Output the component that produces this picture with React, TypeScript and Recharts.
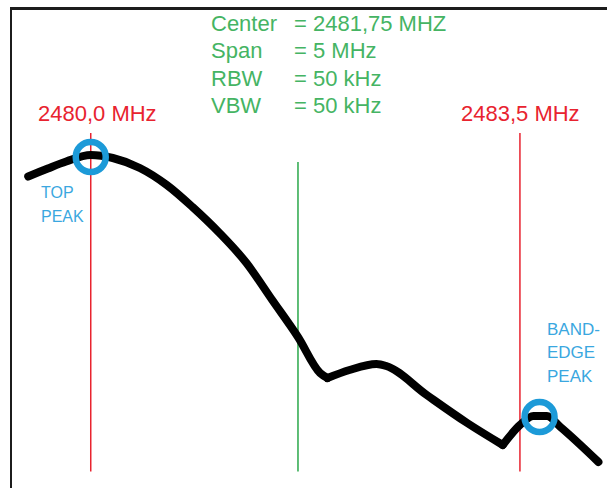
import React from 'react';
import { LineChart, Line, XAxis, YAxis, ReferenceLine, ReferenceDot, Customized } from 'recharts';

// trace of the spectrum (MHz / dB)
const freqs = [
  2479.49, 2479.65, 2479.8, 2480.0, 2480.18, 2480.4, 2480.62, 2480.83, 2481.05, 2481.27,
  2481.48, 2481.69, 2481.87, 2481.93, 2482.11, 2482.33, 2482.41, 2482.74, 2483.07, 2483.36,
  2483.5, 2483.61, 2483.72, 2483.83, 2484.14,
];
const levels = [
  -35.3, -33.7, -32.3, -31.0, -31.6, -33.6, -37.0, -41.4, -46.6, -52.6,
  -60.0, -67.4, -74.6, -75.6, -74.0, -72.8, -73.2, -79.0, -84.6, -89.0,
  -85.0, -83.2, -83.2, -85.4, -92.4,
];
// sharp corners in the trace (the smooth pieces meet here)
const cornerFreqs = [2481.93, 2483.36];

// red band markers and green center marker
const bandMarkers = [2480.0, 2483.5];
const bandLabels = ['2480,0 MHz', '2483,5 MHz'];
const centerLine = 2481.69;

// peak markers
const peakFreqs = [2480.0, 2483.66];
const peakLevels = [-31.4, -83.4];

const infoNames = ['Center', 'Span', 'RBW', 'VBW'];
const infoValues = ['= 2481,75 MHZ', '= 5 MHz', '= 50 kHz', '= 50 kHz'];

const data = freqs.map((f, i) => ({
  freq: f,
  a: f <= cornerFreqs[0] ? levels[i] : null,
  b: f >= cornerFreqs[0] && f <= cornerFreqs[1] ? levels[i] : null,
  c: f >= cornerFreqs[1] ? levels[i] : null,
}));

const font = '"Liberation Sans", Arial, sans-serif';
const RED = '#e8232f';
const GREEN_TEXT = '#45b463';
const BLUE = '#1c9ad8';
const BLUE_TEXT = '#3aa7e0';

const Annotations = () => (
  <g fontFamily={font}>
    {infoNames.map((n, i) => (
      <g key={n}>
        <text x={211} y={31 + i * 27.4} fontSize={22} fill={GREEN_TEXT}>{n}</text>
        <text x={294} y={31 + i * 27.4} fontSize={22} fill={GREEN_TEXT}>{infoValues[i]}</text>
      </g>
    ))}
    <text x={38} y={121} fontSize={22} fill={RED}>{bandLabels[0]}</text>
    <text x={461} y={121} fontSize={22} fill={RED}>{bandLabels[1]}</text>
    <text x={41} y={198} fontSize={16} fill={BLUE_TEXT}>TOP</text>
    <text x={41} y={222} fontSize={16} fill={BLUE_TEXT}>PEAK</text>
    <text x={547} y={335} fontSize={17} fill={BLUE_TEXT}>BAND-</text>
    <text x={547} y={358} fontSize={17} fill={BLUE_TEXT}>EDGE</text>
    <text x={547} y={382} fontSize={17} fill={BLUE_TEXT}>PEAK</text>
  </g>
);

export default function App() {
  return (
    <div style={{ position: 'relative', width: 607, height: 491, background: '#fff' }}>
      <style>{`body{margin:0}`}</style>
      {/* frame */}
      <div style={{ position: 'absolute', left: 10, top: 7, width: 597, height: 481, borderTop: '3px solid #1c1c1c', borderLeft: '2px solid #1c1c1c', boxSizing: 'border-box' }} />
      <div style={{ position: 'absolute', left: 0, top: 0 }}>
        <LineChart width={607} height={491} data={data} margin={{ top: 0, right: 0, bottom: 0, left: 0 }}>
          <XAxis dataKey="freq" type="number" domain={[2479.26, 2484.21]} hide />
          <YAxis type="number" domain={[-98.2, 0]} hide />
          {bandMarkers.map((f) => (
            <ReferenceLine key={f} segment={[{ x: f, y: -26.6 }, { x: f, y: -94.3 }]} stroke={RED} strokeWidth={1.5} />
          ))}
          <ReferenceLine segment={[{ x: centerLine, y: -32.4 }, { x: centerLine, y: -94.3 }]} stroke="#2aa84a" strokeWidth={1.5} />
          {['a', 'b', 'c'].map((k) => (
            <Line
              key={k}
              type="monotone"
              dataKey={k}
              stroke="#000"
              strokeWidth={8}
              strokeLinecap="round"
              strokeLinejoin="round"
              dot={false}
              activeDot={false}
              isAnimationActive={false}
            />
          ))}
          {peakFreqs.map((f, i) => (
            <ReferenceDot key={f} x={f} y={peakLevels[i]} r={15} fill="none" stroke={BLUE} strokeWidth={6.5} />
          ))}
          <Customized component={Annotations} />
        </LineChart>
      </div>
    </div>
  );
}
